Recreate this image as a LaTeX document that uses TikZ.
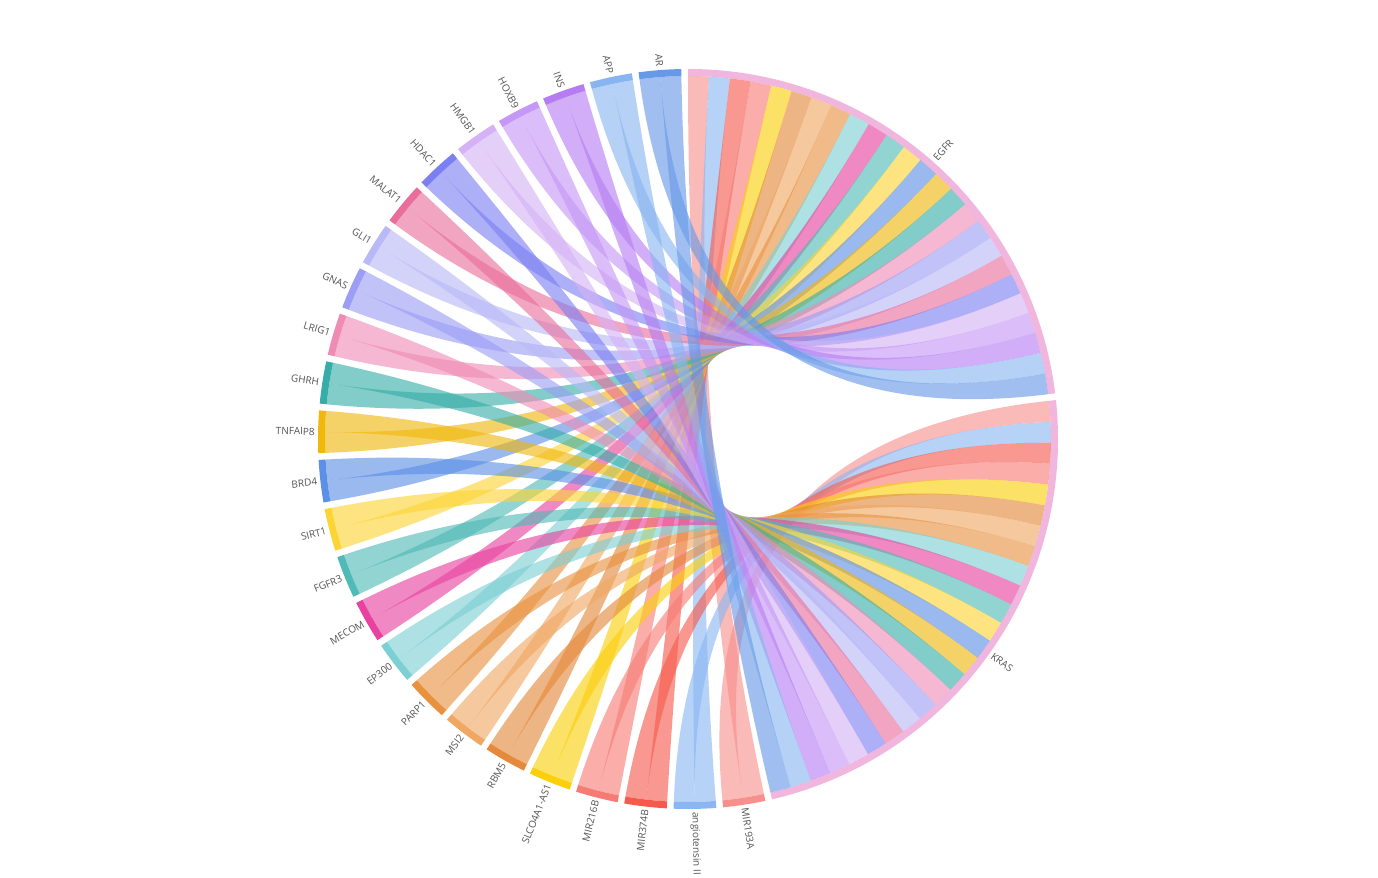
\documentclass[tikz,border=0pt]{standalone}
\usepackage{fontspec}
\setmainfont{Open Sans}
\definecolor{hubpink}{HTML}{F0B6DE}
\definecolor{labelgray}{HTML}{555555}

\begin{document}
\begin{tikzpicture}
  [
    x = 0.02cm, y = 0.02cm,
    ribbon/.style = {fill opacity=0.62},
    gene label/.style = {font=\fontsize{5.7}{6}\selectfont,text=labelgray,inner sep=0},
  ]

  \path[use as bounding box,fill=white] (-688,-439) rectangle (690,439);

  % hub arcs
  \fill[hubpink] (90:363) arc[start angle=90,end angle=7.0875,radius=363] -- (7.0875:370)
    arc[start angle=7.0875,end angle=90,radius=370] -- cycle;
  \fill[hubpink] (6.0375:363) arc[start angle=6.0375,end angle=-76.875,radius=363] -- (-76.875:370)
    arc[start angle=-76.875,end angle=6.0375,radius=370] -- cycle;
  \node[gene label,anchor=west,rotate=48.54] (egfr) at (48.54:373) {EGFR};
  \node[gene label,anchor=west,rotate=-35.42] (kras) at (-35.42:373) {KRAS};

  \foreach \k/\lbl/\hex in {0/MIR193A/F7908D, 1/{angiotensin II}/8AB7F3, 2/MIR374B/F65A4C,
      3/MIR216B/F77B75, 4/SLCO4A1-AS1/FBCF0A, 5/RBM5/E5893A, 6/MSI2/EFA762, 7/PARP1/E8923F,
      8/EP300/7CCFD3, 9/MECOM/E8419F, 10/FGFR3/4FBAB6, 11/SIRT1/FCD535, 12/BRD4/5C8FE6,
      13/TNFAIP8/F0B70C, 14/GHRH/36ADA8, 15/LRIG1/EF8CB5, 16/GNAS/9C9EF5, 17/GLI1/B9B9F7,
      18/MALAT1/EA6E9A, 19/HDAC1/7C7FF3, 20/HMGB1/D5B2F6, 21/HOXB9/C597F6, 22/INS/B57DF3,
      23/APP/88B5F1, 24/AR/6699E8}
  {
    \definecolor{cur}{HTML}{\hex}
    \pgfmathsetmacro\s{-77.925-\k*7.683}
    \pgfmathsetmacro\m{\s-3.3165}
    \pgfmathsetmacro\e{\s-6.633}
    \pgfmathsetmacro\ea{90-\k*3.3165}
    \pgfmathsetmacro\eb{\ea-3.3165}
    \pgfmathsetmacro\ka{6.0375-\k*3.3165}
    \pgfmathsetmacro\kb{\ka-3.3165}
    % to EGFR
    \fill[cur,ribbon] (\s:363) arc[start angle=\s,end angle=\m,radius=363]
      .. controls (\m:121) and (\ea:121) .. (\ea:363) arc[start angle=\ea,end angle=\eb,radius=363]
      .. controls (\eb:121) and (\s:121) .. cycle;
    % to KRAS
    \fill[cur,ribbon] (\m:363) arc[start angle=\m,end angle=\e,radius=363]
      .. controls (\e:121) and (\ka:121) .. (\ka:363) arc[start angle=\ka,end angle=\kb,radius=363]
      .. controls (\kb:121) and (\m:121) .. cycle;
    \fill[cur] (\s:363) arc[start angle=\s,end angle=\e,radius=363] -- (\e:370)
      arc[start angle=\e,end angle=\s,radius=370] -- cycle;
    \ifnum\k<2 \def\anc{west}\pgfmathsetmacro\rot{\m}\else \def\anc{east}\pgfmathsetmacro\rot{\m+180}\fi
    \node[gene label,anchor=\anc,rotate=\rot] (gene\k) at (\m:373) {\lbl};
  }

\end{tikzpicture}
\end{document}
